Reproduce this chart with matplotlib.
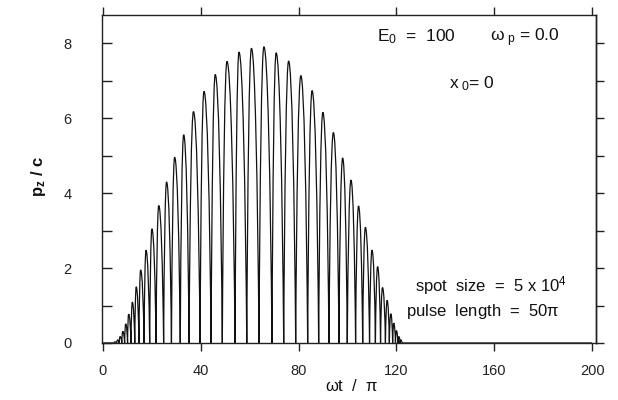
import matplotlib
matplotlib.use("Agg")
import matplotlib.pyplot as plt
from matplotlib.path import Path
from matplotlib.patches import PathPatch

# ---- data ----
peak_x = [4.9, 6.0, 7.0, 8.1, 9.3, 10.5, 12.0, 13.6, 15.4, 17.6, 20.0, 22.8, 26.0, 29.3,
          33.0, 37.0, 41.3, 45.9, 50.7, 55.6, 60.7, 65.8, 70.8, 75.9, 80.9, 85.5, 89.9,
          94.2, 98.0, 101.4, 104.5, 107.3, 110.0, 112.3, 114.3, 116.2, 117.7, 118.9,
          120.0, 121.0, 121.8]
peak_y = [0.03, 0.08, 0.17, 0.31, 0.51, 0.77, 1.09, 1.50, 1.95, 2.48, 3.05, 3.67, 4.30, 4.96,
          5.56, 6.18, 6.72, 7.17, 7.52, 7.77, 7.87, 7.91, 7.75, 7.53, 7.14, 6.74, 6.16,
          5.62, 4.94, 4.35, 3.66, 3.09, 2.48, 2.04, 1.48, 1.14, 0.78, 0.53,
          0.33, 0.17, 0.08]
# trough (p_z = 0) before each peak, plus the final one
trough_x = [4.5, 5.6, 6.6, 7.7, 8.85, 10.05, 11.45, 13.0, 14.7, 16.8, 19.1, 21.7, 24.8, 28.0,
            31.6, 35.2, 39.7, 44.2, 48.8, 54.0, 58.8, 63.8, 69.1, 73.9, 78.8, 83.7, 88.2,
            92.4, 96.5, 99.9, 103.3, 106.2, 109.0, 111.4, 113.5, 115.5, 117.1, 118.45,
            119.6, 120.6, 121.5, 122.3]

x_ticks = [0, 40, 80, 120, 160, 200]
y_ticks_major = [0, 2, 4, 6, 8]
y_ticks_all = [0, 1, 2, 3, 4, 5, 6, 7, 8]

plt.rcParams["font.family"] = ["Liberation Sans", "DejaVu Sans"]
plt.rcParams["mathtext.fontset"] = "custom"
plt.rcParams["mathtext.rm"] = "Liberation Sans"
plt.rcParams["mathtext.it"] = "Liberation Sans"
plt.rcParams["mathtext.bf"] = "Liberation Sans:bold"

W, H = 618, 400
fig = plt.figure(figsize=(W / 100, H / 100), dpi=100)
L, R, T, B = 102, 596, 15, 343
ax = fig.add_axes([L / W, 1 - B / H, (R - L) / W, (B - T) / H])
ax.set_xlim(-0.4, 201.6)
ax.set_ylim(0, 8.76)

# ---- curve built from peaks/troughs with bezier arches ----
verts = [(0, 0), (trough_x[0], 0)]
codes = [Path.MOVETO, Path.LINETO]
for i, (px, py) in enumerate(zip(peak_x, peak_y)):
    t0 = trough_x[i]
    t1 = trough_x[i + 1]
    d0 = px - t0
    d1 = t1 - px
    verts += [(t0 + 0.18 * d0, 0.55 * py), (px - 0.45 * d0, py), (px, py)]
    codes += [Path.CURVE4] * 3
    verts += [(px + 0.45 * d1, py), (t1 - 0.18 * d1, 0.55 * py), (t1, 0)]
    codes += [Path.CURVE4] * 3
verts.append((200, 0))
codes.append(Path.LINETO)
patch = PathPatch(Path(verts, codes), facecolor="none", edgecolor="#111111",
                  lw=0.9, transform=ax.transData, clip_on=False)
ax.add_patch(patch)

# ---- axes styling ----
for s in ax.spines.values():
    s.set_linewidth(1.0)
    s.set_color("#222222")

ax.set_xticks(x_ticks)
ax.set_xticklabels([str(v) for v in x_ticks])
ax.tick_params(axis="x", which="both", direction="out", length=6, width=1.0,
               top=True, bottom=True, labelsize=10.5, pad=9, colors="#222222")
ax.set_yticks(y_ticks_all)
ax.set_yticklabels([str(v) if v in y_ticks_major else "" for v in y_ticks_all])
ax.tick_params(axis="y", which="both", direction="in", length=7, width=1.0,
               left=True, right=False, labelsize=10.5, pad=22, colors="#222222")
sec = ax.secondary_yaxis("right")
sec.set_yticks(y_ticks_all)
sec.set_yticklabels([])
sec.tick_params(direction="out", length=6, width=1.0, colors="#222222")
sec.spines["right"].set_linewidth(1.0)

def px2d(xp, yp):
    x = -0.4 + (xp - L) / (R - L) * 202.0
    y = (B - yp) / (B - T) * 8.76
    return x, y

kw = dict(fontsize=12.5, color="#111111", ha="left", va="baseline")
ax.text(*px2d(377, 41), r"$\mathrm{E_0}$  =  100", **kw)
ax.text(*px2d(490, 41), r"$\mathrm{\omega_{\ p}}$ = 0.0", **kw)
ax.text(*px2d(449, 88), r"$\mathrm{x_{\ 0}}$= 0", **kw)
kw2 = dict(kw, fontsize=12)
ax.text(*px2d(415, 291), r"spot  size  =  5 x 10$^{\mathrm{4}}$", **kw2)
ax.text(*px2d(406, 316), r"pulse  length  =  50$\mathrm{\pi}$", **kw2)

fig.text(352 / W, 1 - 386 / H, r"$\mathrm{\omega}$t  /  $\mathrm{\pi}$", fontsize=12,
         ha="center", va="center", color="#111111")
fig.text(38 / W, 1 - 176 / H, r"$\mathbf{p_z}$ / c", fontsize=12, rotation=90,
         ha="center", va="center", color="#111111", fontweight="bold")

fig.savefig("out.png", dpi=100)
